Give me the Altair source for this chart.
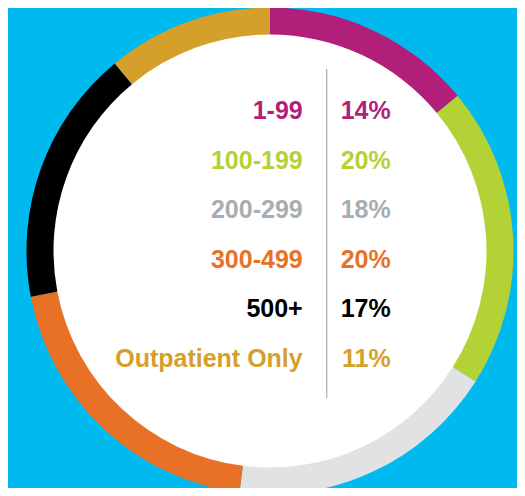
import altair as alt
import pandas as pd

# ---- data ----
categories = ["1-99", "100-199", "200-299", "300-499", "500+", "Outpatient Only"]
percent = [14, 20, 18, 20, 17, 11]
value_labels = ["14%", "20%", "18%", "20%", "17%", "11%"]
ring_colors = ["#B21F7B", "#B3D236", "#E1E2E3", "#E97125", "#000000", "#D4A02B"]
text_colors = ["#B21F7B", "#B3D236", "#A6ADB3", "#E97125", "#000000", "#D4A02B"]

df = pd.DataFrame({
    "category": categories,
    "percent": percent,
    "order": list(range(len(categories))),
    "label": value_labels,
})

W, H = 509, 480
CX, CY = 262, 243
R_OUT, R_IN = 243.5, 216.5
BG = "#00B9EE"
FONT = "Liberation Sans"

disc = alt.Chart(pd.DataFrame({"d": [0]})).mark_circle(
    color="white", opacity=1, size=(2 * (R_IN + 1)) ** 2
).encode(x=alt.value(CX), y=alt.value(CY))

ring = alt.Chart(df).mark_arc(radius=R_OUT, radius2=R_IN, strokeWidth=0).encode(
    x=alt.value(CX),
    y=alt.value(CY),
    theta=alt.Theta("percent:Q", stack=True),
    order=alt.Order("order:Q"),
    color=alt.Color("category:N", scale=alt.Scale(domain=categories, range=ring_colors), legend=None),
)

divider = alt.Chart(pd.DataFrame({"d": [0]})).mark_rule(color="#A9B3BC", strokeWidth=1.3).encode(
    x=alt.value(318.7), y=alt.value(61), y2=alt.value(390)
)

yenc = alt.Y("category:N", sort=categories,
             scale=alt.Scale(type="point", domain=categories, range=[111, 358.6], padding=0),
             axis=None)
tcolor = alt.Color("category:N", scale=alt.Scale(domain=categories, range=text_colors), legend=None)

labels = alt.Chart(df).mark_text(
    align="right", baseline="alphabetic", font=FONT, fontSize=25, fontWeight="bold"
).encode(x=alt.value(294.7), y=yenc, text="category:N", color=tcolor)

values = alt.Chart(df).mark_text(
    align="right", baseline="alphabetic", font=FONT, fontSize=25, fontWeight="bold"
).encode(x=alt.value(382.7), y=yenc, text="label:N", color=tcolor)

chart = alt.layer(disc, ring, divider, labels, values).resolve_scale(color="independent").properties(
    width=W, height=H, background=BG, padding=0,
    autosize=alt.AutoSizeParams(type="none"),
).configure_view(strokeWidth=0)

chart.save("out.html", embed_options={"renderer": "svg", "actions": False})
